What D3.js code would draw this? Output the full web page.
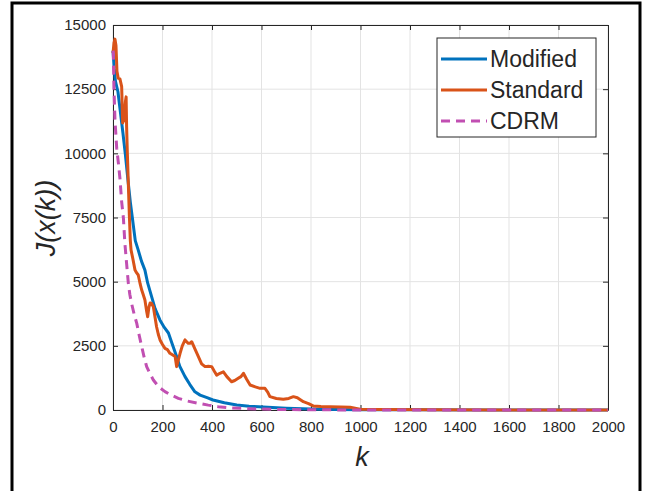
<!DOCTYPE html>
<html>
<head>
<meta charset="utf-8">
<script src="https://cdn.jsdelivr.net/npm/d3@7"></script>
<style>
  body { margin: 0; background: #fff; }
  svg text { font-family: "Liberation Sans", Arial, sans-serif; fill: #262626; }
</style>
</head>
<body>
<div id="chart"></div>
<script>
// tick values
const xTicks = [0, 200, 400, 600, 800, 1000, 1200, 1400, 1600, 1800, 2000];
const yTicks = [0, 2500, 5000, 7500, 10000, 12500, 15000];
const seriesNames = ['Modified', 'Standard', 'CDRM'];

// Modified
const modK = [0, 5, 10, 20, 30, 40, 50, 60, 70, 78, 90, 102, 115, 129, 140, 156, 170, 190, 205, 224, 240, 257, 270, 291, 310, 331, 352, 380, 404, 450, 500, 550, 606, 700, 800, 900, 1000, 1200, 1500, 2000];
const modJ = [14000, 13300, 12800, 12400, 11600, 10800, 9950, 9000, 8100, 7500, 6600, 6230, 5800, 5450, 4950, 4415, 3950, 3500, 3250, 3000, 2550, 2080, 1700, 1300, 1000, 710, 580, 480, 390, 280, 195, 150, 117, 70, 40, 20, 10, 5, 0, 0];

// Standard
const stdK = [0, 4, 8, 12, 16, 21, 28, 35, 39, 44, 50, 53, 55, 58, 62, 66, 70, 73, 80, 89, 95, 102, 110, 116, 122, 129, 135, 140, 145, 150, 156, 163, 170, 176, 183, 190, 200, 210, 220, 230, 240, 251, 257, 264, 271, 280, 291, 298, 304, 311, 318, 330, 345, 358, 372, 385, 399, 410, 419, 432, 446, 460, 479, 492, 506, 517, 527, 540, 554, 575, 594, 614, 625, 634, 660, 688, 710, 729, 745, 769, 790, 809, 840, 877, 920, 958, 998, 1100, 1300, 1600, 2000];
const stdJ = [13900, 14300, 14450, 14200, 13200, 12930, 12900, 12600, 11180, 11300, 12000, 12200, 11040, 10000, 8800, 7600, 6600, 6230, 5900, 5450, 5350, 5260, 4900, 4675, 4500, 4285, 3900, 3630, 4000, 4170, 4150, 4025, 3600, 3245, 2950, 2730, 2550, 2400, 2350, 2210, 2150, 2080, 1690, 1950, 2210, 2500, 2730, 2650, 2600, 2600, 2660, 2400, 2080, 1800, 1690, 1700, 1690, 1500, 1360, 1430, 1490, 1300, 1100, 1150, 1235, 1300, 1430, 1200, 975, 900, 845, 845, 700, 520, 450, 415, 450, 520, 480, 325, 250, 160, 140, 130, 115, 105, 30, 15, 5, 0, 0];

// CDRM
const cdrmK = [0, 1, 4, 8, 15, 22, 28, 35, 42, 48, 55, 62, 68, 75, 85, 96, 106, 116, 126, 136, 150, 163, 185, 210, 235, 264, 300, 345, 385, 425, 480, 550, 650, 800, 1000, 1500, 2000];
const cdrmJ = [14000, 13960, 12500, 11300, 10200, 9600, 9030, 8110, 7480, 6490, 5700, 4935, 4500, 4155, 3750, 3375, 2900, 2470, 2050, 1690, 1400, 1170, 900, 715, 580, 455, 350, 260, 190, 130, 80, 50, 25, 10, 0, 0, 0];

const W = 649, H = 491;
const margin = { top: 25, right: 41, bottom: 81, left: 113 };
const width = W - margin.left - margin.right;
const height = H - margin.top - margin.bottom;

const svg = d3.select('#chart').append('svg')
  .attr('width', W).attr('height', H);

// figure frame
svg.append('rect')
  .attr('x', 12).attr('y', 3).attr('width', 628).attr('height', 510)
  .attr('fill', 'none').attr('stroke', '#000').attr('stroke-width', 3);

const g = svg.append('g').attr('transform', `translate(${margin.left},${margin.top})`);

const x = d3.scaleLinear().domain([0, 2000]).range([0, width]);
const y = d3.scaleLinear().domain([0, 15000]).range([height, 0]);

// grid
g.append('g').selectAll('line').data(xTicks).join('line')
  .attr('x1', d => x(d)).attr('x2', d => x(d))
  .attr('y1', 0).attr('y2', height)
  .attr('stroke', '#e3e3e3').attr('stroke-width', 1);
g.append('g').selectAll('line').data(yTicks).join('line')
  .attr('y1', d => y(d)).attr('y2', d => y(d))
  .attr('x1', 0).attr('x2', width)
  .attr('stroke', '#e3e3e3').attr('stroke-width', 1);

// axes (ticks inward, box on)
function styleAxis(sel) {
  sel.select('.domain').attr('stroke', '#262626');
  sel.selectAll('.tick line').attr('stroke', '#262626');
  sel.selectAll('.tick text').attr('font-size', 15).attr('fill', '#262626')
    .attr('font-family', '"Liberation Sans", Arial, sans-serif');
}
g.append('g').attr('transform', `translate(0,${height})`)
  .call(d3.axisBottom(x).tickValues(xTicks).tickFormat(d3.format('d')).tickSizeInner(-5).tickSizeOuter(0).tickPadding(11))
  .call(styleAxis);
g.append('g')
  .call(d3.axisLeft(y).tickValues(yTicks).tickFormat(d3.format('d')).tickSizeInner(-5).tickSizeOuter(0).tickPadding(7))
  .call(styleAxis);
g.append('g')
  .call(d3.axisTop(x).tickValues(xTicks).tickFormat('').tickSizeInner(-5).tickSizeOuter(0))
  .call(styleAxis);
g.append('g').attr('transform', `translate(${width},0)`)
  .call(d3.axisRight(y).tickValues(yTicks).tickFormat('').tickSizeInner(-5).tickSizeOuter(0))
  .call(styleAxis);

// lines
const line = d3.line().x(d => x(d[0])).y(d => y(d[1]));
const series = [
  { name: seriesNames[0], data: d3.zip(modK, modJ), color: '#0072bd', dash: null },
  { name: seriesNames[1], data: d3.zip(stdK, stdJ), color: '#d95319', dash: null },
  { name: seriesNames[2], data: d3.zip(cdrmK, cdrmJ), color: '#c14fb2', dash: '9,6' }
];
const plot = g.append('g');
series.forEach(s => {
  plot.append('path').datum(s.data)
    .attr('d', line)
    .attr('fill', 'none')
    .attr('stroke', s.color)
    .attr('stroke-width', 3)
    .attr('stroke-linejoin', 'round')
    .attr('stroke-dasharray', s.dash);
});

// axis labels
svg.append('text')
  .attr('x', 362).attr('y', 466)
  .attr('text-anchor', 'middle')
  .attr('font-size', 27).attr('font-style', 'italic')
  .text('k');
svg.append('text')
  .attr('transform', 'translate(55,218) rotate(-90)')
  .attr('text-anchor', 'middle')
  .attr('font-size', 27).attr('font-style', 'italic')
  .text('J(x(k))');

// legend
const leg = svg.append('g').attr('transform', 'translate(437,38)');
leg.append('rect')
  .attr('width', 159).attr('height', 99)
  .attr('fill', '#fff').attr('stroke', '#262626').attr('stroke-width', 1);
series.forEach((s, i) => {
  const cy = 21 + i * 31;
  leg.append('line')
    .attr('x1', 4).attr('x2', 50).attr('y1', cy).attr('y2', cy)
    .attr('stroke', s.color).attr('stroke-width', 3)
    .attr('stroke-dasharray', s.dash);
  leg.append('text')
    .attr('x', 53).attr('y', cy + 8)
    .attr('font-size', 23)
    .text(s.name);
});
</script>
</body>
</html>
